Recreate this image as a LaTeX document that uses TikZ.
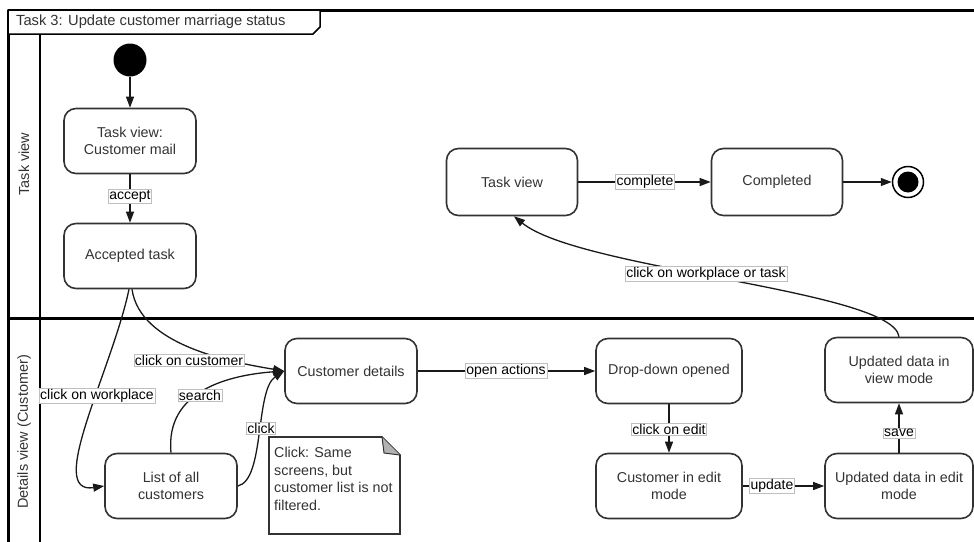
\documentclass[tikz,border=0pt]{standalone}
\usepackage{fontspec}
\setmainfont{Liberation Sans}
\usetikzlibrary{arrows.meta}
\definecolor{ink}{HTML}{333333}
\begin{document}
\begin{tikzpicture}[x=1pt,y=-1pt,
 state/.style={draw=ink, line width=1.6pt, rounded corners=12pt, minimum height=65pt, inner sep=2pt, align=center, text=ink, font=\fontsize{14.3}{17}\selectfont, fill=white},
 conn/.style={draw=black!90, line width=1.3pt, -{Triangle[length=11pt,width=8pt]}},
 lbl/.style={draw=gray!50, line width=0.4pt, fill=white, inner sep=1pt, font=\fontsize{14}{16}\selectfont, text=black},
 frameline/.style={line width=3pt, draw=black},
]
\useasboundingbox (0,0) rectangle (974,541);
\clip (0,0) rectangle (974,541);
\fill[white] (0,0) rectangle (974,541);

% frame and lanes
\draw[frameline] (8,10) -- (990,10);
\draw[frameline] (8,10) -- (8,560);
\draw[frameline] (8,318) -- (990,318);
\draw[line width=2pt] (40,34) -- (40,560);
\draw[line width=1.5pt, fill=white] (8,10) -- (320,10) -- (320,27) -- (313,34) -- (8,34) -- cycle;
\node[anchor=west, font=\fontsize{14.7}{16}\selectfont, text=ink, inner sep=0] (title) at (16,22) {Task 3: Update customer marriage status};
\node[rotate=90, font=\fontsize{14.5}{16}\selectfont, text=ink, inner sep=0] (lane1) at (24,164) {Task view};
\node[rotate=90, font=\fontsize{14.5}{16}\selectfont, text=ink, inner sep=0] (lane2) at (24,432) {Details view (Customer)};

% states
\node[circle, fill=black, minimum size=33pt, inner sep=0] (start) at (130,60) {};
\node[state, minimum width=132pt] (tvcm) at (130,141) {Task view:\\Customer mail};
\node[state, minimum width=132pt] (acc) at (130,256) {Accepted task};
\node[state, minimum width=131pt, minimum height=67pt] (tv) at (512,182) {Task view};
\node[state, minimum width=131pt, minimum height=67pt] (comp) at (777,182) {Completed};
\node[circle, draw=black, line width=1.5pt, minimum size=31pt, inner sep=0] (end) at (908,182) {};
\node[circle, fill=black, minimum size=21pt, inner sep=0] (endin) at (908,182) {};
\node[state, minimum width=132pt] (cd) at (351,371) {Customer details};
\node[state, minimum width=146pt] (dd) at (669,371) {Drop-down opened};
\node[state, minimum width=148pt] (udv) at (899,370) {Updated data in\\view mode};
\node[state, minimum width=132pt] (list) at (171,486) {List of all\\customers};
\node[state, minimum width=146pt] (cie) at (669,486) {Customer in edit\\mode};
\node[state, minimum width=148pt] (ude) at (899,486) {Updated data in edit\\mode};

% note
\draw[draw=ink, line width=1.6pt, fill=white] (269,437) -- (382,437) -- (400,455) -- (400,534) -- (269,534) -- cycle;
\fill[gray!60] (382,437) -- (400,455) -- (384,453) -- cycle;
\draw[draw=ink, line width=1pt] (382,437) -- (384,453) -- (400,455);
\node[anchor=north west, align=left, text=ink, inner sep=0, font=\fontsize{14.3}{17.7}\selectfont] (note) at (274,447) {Click: Same\\screens, but\\customer list is not\\filtered.};

% connectors
\draw[conn] (start) -- (tvcm);
\draw[conn] (tvcm) -- (acc);
\draw[conn] ([xshift=-1pt]acc.south) .. controls (112,370) and (45,495) .. (list.west);
\draw[conn] ([xshift=2pt]acc.south) .. controls (140,345) and (230,362) .. (cd.west);
\draw[conn] (list.north) .. controls (165,390) and (230,375) .. (cd.west);
\draw[conn] (list.east) .. controls (265,480) and (255,390) .. (cd.west);
\draw[conn] (cd) -- (dd);
\draw[conn] (dd) -- (cie);
\draw[conn] (cie) -- (ude);
\draw[conn] (ude) -- (udv);
\draw[conn] (udv.north) .. controls (893,290) and (580,270) .. ([xshift=2pt]tv.south);
\draw[conn] (tv) -- (comp);
\draw[conn] (comp) -- (end);

% labels
\node[lbl] (laccept) at (130,196) {accept};
\node[lbl] (lcust) at (189,360) {click on customer};
\node[lbl] (lwork) at (97,396) {click on workplace};
\node[lbl] (lsearch) at (200,395) {search};
\node[lbl] (lclick) at (261,428) {click};
\node[lbl] (lopen) at (506,371) {open actions};
\node[lbl] (ledit) at (669,429) {click on edit};
\node[lbl] (lupdate) at (772,486) {update};
\node[lbl] (lsave) at (899,433) {save};
\node[lbl] (lwt) at (706,274) {click on workplace or task};
\node[lbl] (lcomplete) at (645,182) {complete};
\end{tikzpicture}
\end{document}
